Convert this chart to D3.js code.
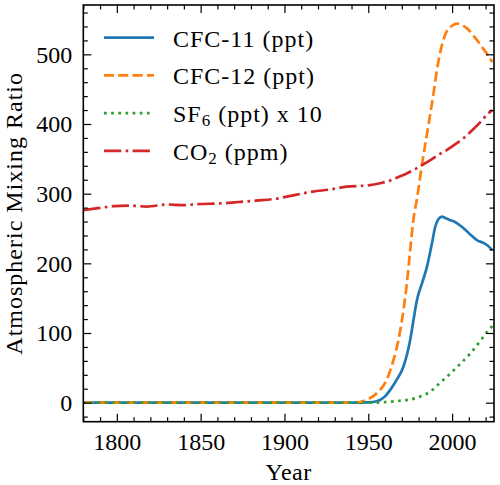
<!DOCTYPE html>
<html>
<head>
<meta charset="utf-8">
<script src="https://cdn.jsdelivr.net/npm/d3@7"></script>
<style>
  body { margin: 0; background: #fff; }
  text { font-family: "Liberation Serif", "DejaVu Serif", serif; fill: #000; }
</style>
</head>
<body>
<div id="chart"></div>
<script>
// values: [year, value]
var cfc11 = [[1780,0],[1940,0],[1950,0.5],[1955,2],[1960,9],[1963,18],[1967,33],[1971,52],[1975,90],
  [1977,119],[1979,147],[1982,171],[1985,195],[1988,229],[1990,253],[1992,264],[1994,267],[1996,265],
  [1999,262],[2002,259],[2005,254],[2008,248],[2011,241],[2015,233],[2019,229],[2021,226],[2024,219]]
var cfc12 = [[1780,0],[1940,0],[1945,1],[1949,4],[1955,13.5],[1961,33],[1965,61],[1968,90],[1971,133],
  [1973,171],[1975,219],[1977,264],[1979,292],[1982,341],[1986,400],[1989,445],[1991,478],[1994,514],
  [1997,534],[2000,541],[2003,544],[2006,542],[2009,537],[2012,529],[2015,520],[2018,510],[2021,500],[2024,489]]
var sf6x10 = [[1780,0],[1950,0],[1955,0.2],[1960,0.8],[1965,1.8],[1970,3],[1975,4.5],[1981,9],[1987,16],
  [1993,29],[1999,42],[2005,56],[2011,71],[2017,89],[2021,102],[2024,110]]
var co2 = [[1780,276.5],[1790,279.5],[1798,282],[1808,282.7],[1818,281.5],[1830,284.5],[1840,283.5],
  [1848,285],[1862,286],[1873,288],[1883,290],[1897,293.5],[1903,296.5],[1917,303],[1927,306],[1937,310],
  [1950,312],[1957,315],[1962,318],[1967,323],[1972,328],[1977,334],[1982,341],[1987,348],[1992,356],
  [1997,363],[2002,371],[2007,380],[2012,391],[2017,403],[2021,414],[2024,420]]

var seriesNames = ['CFC-11 (ppt)', 'CFC-12 (ppt)', 'SF6 (ppt) x 10', 'CO2 (ppm)']
var seriesData = [cfc11, cfc12, sf6x10, co2]
var colors = ['#1f77b4', '#ff7f0e', '#2ca02c', '#d62728']

var xMajor = [1800, 1850, 1900, 1950, 2000]
var yMajor = [0, 100, 200, 300, 400, 500]

var width = 500, height = 485
var margin = { top: 5, left: 83.3, right: 6, bottom: 63.3 }
var lw = 2.7
var dashes = ['none', [3.7*lw, 1.6*lw].join(','), [1*lw, 1.65*lw].join(','),
  [6.4*lw, 1.6*lw, 1*lw, 1.6*lw].join(',')]

var svg = d3.select('#chart').append('svg')
  .attr('width', width)
  .attr('height', height)

var x = d3.scaleLinear().domain([1780, 2025]).range([margin.left, width - margin.right])
var y = d3.scaleLinear().domain([-27.3, 570.8]).range([height - margin.bottom, margin.top])

var xMinor = d3.range(1780, 2026, 10).filter(d => xMajor.indexOf(d) < 0)
var yMinor = d3.range(-20, 571, 20).filter(d => yMajor.indexOf(d) < 0)

var pLeft = x.range()[0], pRight = x.range()[1]
var pBottom = y.range()[0], pTop = y.range()[1]

svg.append('clipPath').attr('id', 'clip')
  .append('rect')
  .attr('x', pLeft).attr('y', pTop)
  .attr('width', pRight - pLeft)
  .attr('height', pBottom - pTop)

// lines
var line = d3.line()
  .x(d => x(d[0]))
  .y(d => y(d[1]))
  .curve(d3.curveMonotoneX)

var plot = svg.append('g').attr('clip-path', 'url(#clip)')
seriesData.forEach(function(data, i) {
  plot.append('path')
    .datum(data)
    .attr('d', line)
    .attr('fill', 'none')
    .attr('stroke', colors[i])
    .attr('stroke-width', lw)
    .attr('stroke-dasharray', dashes[i])
    .attr('stroke-linejoin', 'round')
})

// axes, ticks pointing in on all four sides
function addAxis(axis, tx, ty, size, vals, labels) {
  var g = svg.append('g')
    .attr('transform', 'translate(' + tx + ',' + ty + ')')
    .call(axis.tickValues(vals).tickSize(-size).tickPadding(11)
      .tickFormat(labels ? d3.format('d') : ''))
  g.select('.domain').remove()
  g.selectAll('.tick line').attr('stroke', '#000').attr('stroke-width', 1.2)
  g.selectAll('.tick text').attr('font-size', '24px').attr('fill', '#000')
    .style('font-family', '"Liberation Serif", serif')
  return g
}

addAxis(d3.axisBottom(x), 0, pBottom, 8, xMajor, true)
addAxis(d3.axisBottom(x), 0, pBottom, 4.5, xMinor, false)
addAxis(d3.axisTop(x), 0, pTop, 8, xMajor, false)
addAxis(d3.axisTop(x), 0, pTop, 4.5, xMinor, false)
addAxis(d3.axisLeft(y), pLeft, 0, 8, yMajor, true)
addAxis(d3.axisLeft(y), pLeft, 0, 4.5, yMinor, false)
addAxis(d3.axisRight(y), pRight, 0, 8, yMajor, false)
addAxis(d3.axisRight(y), pRight, 0, 4.5, yMinor, false)

svg.append('rect')
  .attr('x', pLeft).attr('y', pTop)
  .attr('width', pRight - pLeft).attr('height', pBottom - pTop)
  .attr('fill', 'none')
  .attr('stroke', '#000')
  .attr('stroke-width', 1.6)

// axis labels
svg.append('text')
  .attr('x', (pLeft + pRight) / 2)
  .attr('y', 480)
  .attr('text-anchor', 'middle')
  .attr('font-size', '24px')
  .attr('letter-spacing', '0.5px')
  .text('Year')

svg.append('text')
  .attr('transform', 'translate(22,' + (pTop + pBottom) / 2 + ') rotate(-90)')
  .attr('text-anchor', 'middle')
  .attr('font-size', '24px')
  .attr('letter-spacing', '1px')
  .text('Atmospheric Mixing Ratio')

// legend
var legend = svg.append('g')
seriesNames.forEach(function(name, i) {
  var ly = 37.7 + i * 37.7
  legend.append('line')
    .attr('x1', 104).attr('x2', 154)
    .attr('y1', ly).attr('y2', ly)
    .attr('stroke', colors[i])
    .attr('stroke-width', lw)
    .attr('stroke-dasharray', dashes[i])
  var t = legend.append('text')
    .attr('x', 173).attr('y', ly + 9)
    .attr('font-size', '24px')
    .attr('letter-spacing', '1px')
  var m = name.match(/^(SF|CO)(\d)(.*)$/)
  if (m) {
    t.append('tspan').text(m[1])
    t.append('tspan').attr('font-size', '17px').attr('dy', 4).text(m[2])
    t.append('tspan').attr('dy', -4).text(m[3])
  } else {
    t.text(name)
  }
})
</script>
</body>
</html>
